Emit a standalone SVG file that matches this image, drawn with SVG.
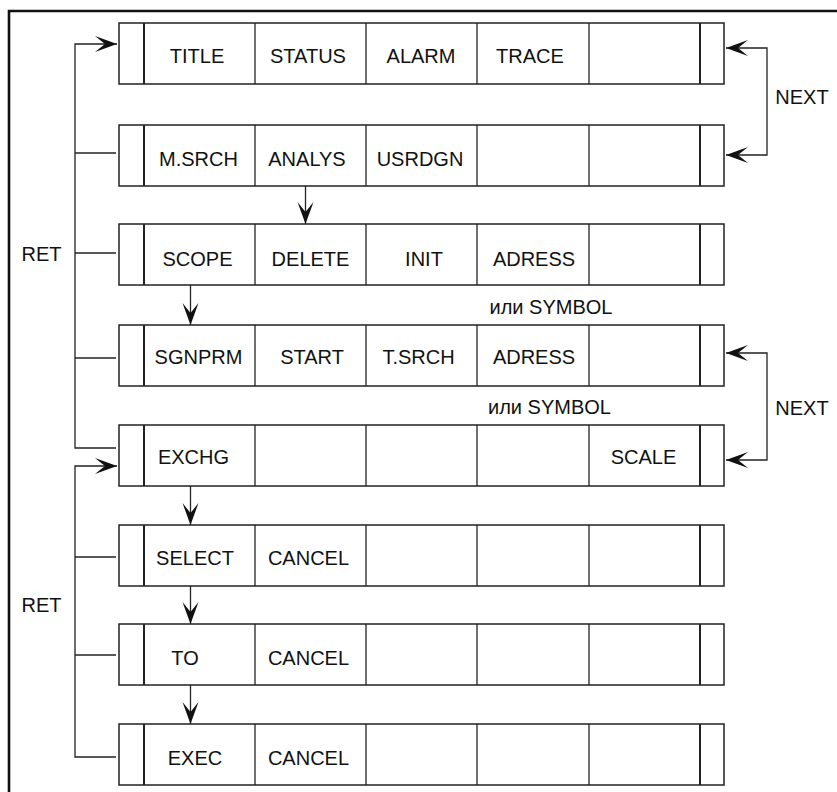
<svg xmlns="http://www.w3.org/2000/svg" width="837" height="792" viewBox="0 0 837 792">
<style>
  .frame{fill:none;stroke:#111;stroke-width:2.6}
  .box{fill:#fff;stroke:#222;stroke-width:1.5}
  .dv{stroke:#222;stroke-width:1.3}
  .thick{stroke:#222;stroke-width:2}
  .conn{fill:none;stroke:#222;stroke-width:1.3}
  text{font-family:"Liberation Sans",Arial,sans-serif;font-size:20px;fill:#111;text-anchor:middle}
</style>
<defs>
  <marker id="ah" viewBox="-23 -9 24 18" refX="0" refY="0" markerWidth="24" markerHeight="18" markerUnits="userSpaceOnUse" orient="auto-start-reverse">
    <path d="M0,0 L-22,-8 L-12,0 L-22,8 Z" fill="#111"/>
  </marker>
  <g id="rowshape">
    <rect class="box" x="119" y="0" width="605" height="61" fill="#fff" stroke="#222" stroke-width="1.5"/>
    <line class="thick" x1="144" y1="0" x2="144" y2="61" stroke="#222" stroke-width="2"/>
    <line class="dv" x1="255" y1="0" x2="255" y2="61" stroke="#222" stroke-width="1.3"/>
    <line class="dv" x1="366" y1="0" x2="366" y2="61" stroke="#222" stroke-width="1.3"/>
    <line class="dv" x1="477" y1="0" x2="477" y2="61" stroke="#222" stroke-width="1.3"/>
    <line class="dv" x1="589" y1="0" x2="589" y2="61" stroke="#222" stroke-width="1.3"/>
    <line class="thick" x1="700" y1="0" x2="700" y2="61" stroke="#222" stroke-width="2"/>
  </g>
</defs>
<rect width="837" height="792" fill="#fff"/>
<path class="frame" d="M9,792 V11 H837"/>

<g id="row1">
  <use href="#rowshape" y="23"/>
  <text x="197" y="63">TITLE</text>
  <text x="308" y="63">STATUS</text>
  <text x="421" y="63">ALARM</text>
  <text x="530" y="63">TRACE</text>
</g>
<g id="row2">
  <use href="#rowshape" y="125"/>
  <text x="198.5" y="165.5">M.SRCH</text>
  <text x="307" y="165.5">ANALYS</text>
  <text x="420" y="165.5">USRDGN</text>
</g>
<g id="row3">
  <use href="#rowshape" y="224"/>
  <text x="197.5" y="266">SCOPE</text>
  <text x="310.5" y="266">DELETE</text>
  <text x="424" y="266">INIT</text>
  <text x="534" y="266">ADRESS</text>
</g>
<g id="row4">
  <use href="#rowshape" y="325"/>
  <text x="198.5" y="364">SGNPRM</text>
  <text x="312" y="364">START</text>
  <text x="418.5" y="364">T.SRCH</text>
  <text x="534" y="364">ADRESS</text>
</g>
<g id="row5">
  <use href="#rowshape" y="425"/>
  <text x="193.5" y="463.5">EXCHG</text>
  <text x="643.5" y="463.5">SCALE</text>
</g>
<g id="row6">
  <use href="#rowshape" y="525"/>
  <text x="195" y="565">SELECT</text>
  <text x="308.5" y="565">CANCEL</text>
</g>
<g id="row7">
  <use href="#rowshape" y="624"/>
  <text x="185" y="664.5">TO</text>
  <text x="308.5" y="664.5">CANCEL</text>
</g>
<g id="row8">
  <use href="#rowshape" y="724"/>
  <text x="195" y="764.5">EXEC</text>
  <text x="308.5" y="764.5">CANCEL</text>
</g>

<g id="connectors" class="conn">
  <path d="M116,448 H75 V44 H117" marker-end="url(#ah)"/>
  <path d="M75,153 H116"/>
  <path d="M75,253 H116"/>
  <path d="M75,358 H116"/>
  <path d="M116,757 H75 V466 H117" marker-end="url(#ah)"/>
  <path d="M75,557 H116"/>
  <path d="M75,655 H116"/>
  <path d="M726,48 H767 V155 H726" marker-start="url(#ah)" marker-end="url(#ah)"/>
  <path d="M726,353 H767 V460 H726" marker-start="url(#ah)" marker-end="url(#ah)"/>
  <path d="M305.5,186 V224" marker-end="url(#ah)"/>
  <path d="M190.5,285 V325" marker-end="url(#ah)"/>
  <path d="M190.5,486 V525" marker-end="url(#ah)"/>
  <path d="M190.5,586 V624" marker-end="url(#ah)"/>
  <path d="M190.5,685 V724" marker-end="url(#ah)"/>
</g>

<g id="labels">
  <text x="41.5" y="261">RET</text>
  <text x="41.5" y="612">RET</text>
  <text x="802" y="103.5">NEXT</text>
  <text x="802" y="415">NEXT</text>
  <text x="551" y="314">или SYMBOL</text>
  <text x="549.5" y="413.5">или SYMBOL</text>
</g>
</svg>
